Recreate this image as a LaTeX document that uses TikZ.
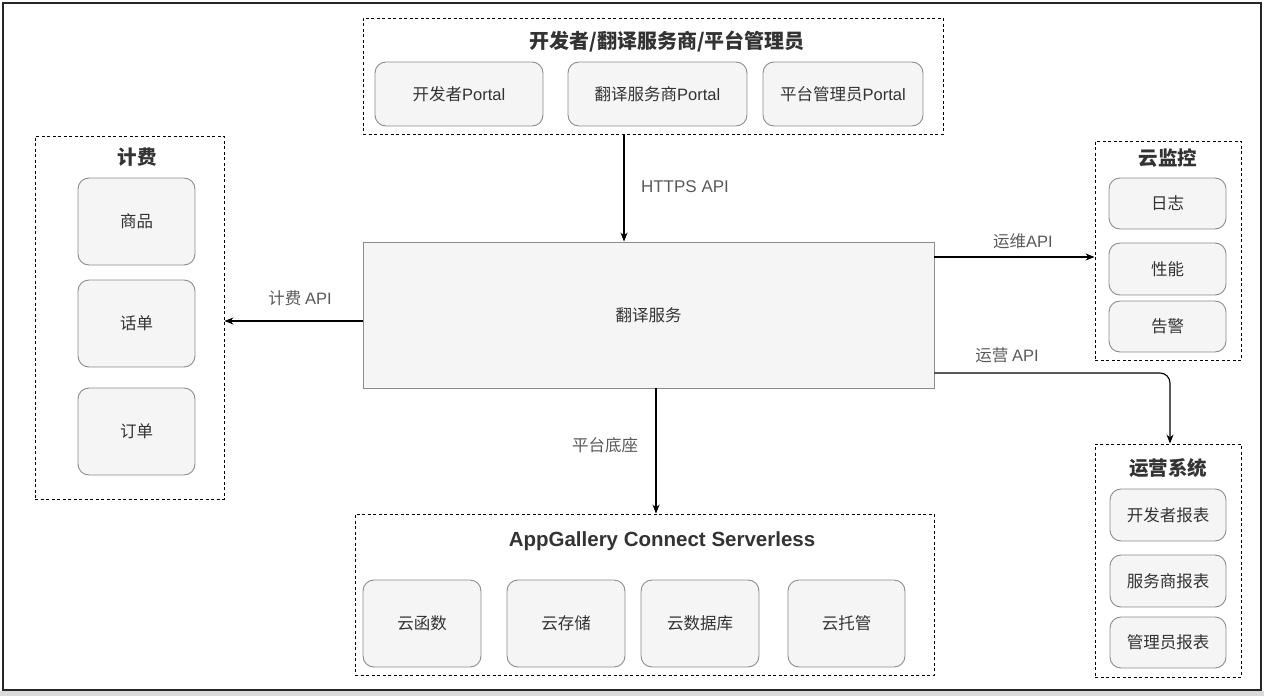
\documentclass[tikz,border=0pt]{standalone}
\usepackage{fontspec}
\setmainfont{Noto Sans CJK SC}
\newfontfamily\lat{Liberation Sans}
\usetikzlibrary{arrows.meta}
\definecolor{txt}{HTML}{333333}
\definecolor{lbl}{HTML}{5A5A5A}
\definecolor{boxfill}{HTML}{F5F5F5}
\definecolor{boxline}{HTML}{8C8C8C}
\tikzset{
  rbox/.style={draw=boxline, fill=boxfill, rounded corners=11pt, line width=0.9pt, text=txt, font=\fontsize{16.5}{19}\selectfont, inner sep=0pt},
  grp/.style={draw=black, dash pattern=on 3pt off 2.5pt, line width=0.9pt, inner sep=0pt},
  ttl/.style={text=txt, font=\fontsize{19.5}{22}\selectfont\bfseries, inner sep=0pt},
  lab/.style={text=lbl, font=\fontsize{16.5}{19}\selectfont, inner sep=0pt},
  arr/.style={draw=black, line width=1.1pt, -{Stealth[length=9pt,width=7pt]}},
}
\begin{document}
\begin{tikzpicture}[x=1pt,y=-1pt]
\useasboundingbox (0,0) rectangle (1264,696);
\fill[white] (0,0) rectangle (1264,696);
\fill[black!15] (0,691) rectangle (1264,696);
\draw[black!85, line width=1.6pt] (3,3) rectangle (1261,690);

% top group
\node[grp, minimum width=580pt, minimum height=116pt] (top) at (653,76) {};
\node[ttl, font=\fontsize{20}{23}\selectfont\bfseries] (toptitle) at (667,42) {开发者/翻译服务商/平台管理员};
\node[rbox, minimum width=168pt, minimum height=64pt] (p1) at (459,94) {开发者{\lat Portal}};
\node[rbox, minimum width=179pt, minimum height=64pt] (p2) at (657.5,94) {翻译服务商{\lat Portal}};
\node[rbox, minimum width=160pt, minimum height=64pt] (p3) at (843,94) {平台管理员{\lat Portal}};

% service
\node[draw=boxline, fill=boxfill, line width=0.9pt, text=txt, font=\fontsize{16.5}{19}\selectfont, minimum width=571pt, minimum height=146pt] (svc) at (648.5,315) {翻译服务};

% billing
\node[grp, minimum width=189pt, minimum height=363pt] (bill) at (129.5,317.5) {};
\node[ttl] (billtitle) at (137,157) {计费};
\node[rbox, minimum width=117pt, minimum height=87pt] (b1) at (136.5,221.5) {商品};
\node[rbox, minimum width=117pt, minimum height=87pt] (b2) at (136.5,323.5) {话单};
\node[rbox, minimum width=117pt, minimum height=87pt] (b3) at (136.5,431.5) {订单};

% monitoring
\node[grp, minimum width=146pt, minimum height=219pt] (mon) at (1168,250.5) {};
\node[ttl] (montitle) at (1168,158) {云监控};
\node[rbox, minimum width=117pt, minimum height=51pt] (m1) at (1167.5,203.5) {日志};
\node[rbox, minimum width=117pt, minimum height=52pt] (m2) at (1167.5,269) {性能};
\node[rbox, minimum width=117pt, minimum height=51pt] (m3) at (1167.5,326.5) {告警};

% operations
\node[grp, minimum width=146pt, minimum height=233pt] (ops) at (1168,560.5) {};
\node[ttl] (opstitle) at (1168,468) {运营系统};
\node[rbox, minimum width=116pt, minimum height=52pt] (o1) at (1168,515) {开发者报表};
\node[rbox, minimum width=116pt, minimum height=52pt] (o2) at (1168,581) {服务商报表};
\node[rbox, minimum width=116pt, minimum height=51pt] (o3) at (1168,642.5) {管理员报表};

% AGC
\node[grp, minimum width=579pt, minimum height=161pt] (agc) at (644.5,594.5) {};
\node[ttl, font=\lat\fontsize{20.5}{23}\selectfont\bfseries] (agctitle) at (662,541) {AppGallery Connect Serverless};
\node[rbox, minimum width=118pt, minimum height=87pt] (a1) at (422,623.5) {云函数};
\node[rbox, minimum width=118pt, minimum height=87pt] (a2) at (566,623.5) {云存储};
\node[rbox, minimum width=118pt, minimum height=87pt] (a3) at (700,623.5) {云数据库};
\node[rbox, minimum width=117pt, minimum height=87pt] (a4) at (846.5,623.5) {云托管};

% connectors
\coordinate (hx) at (624,0);
\draw[arr] (top.south -| hx) -- (svc.north -| hx);
\node[lab, font=\lat\fontsize{17}{19}\selectfont] (l1) at (685,187) {HTTPS API};

\coordinate (by) at (0,321);
\draw[arr] (svc.west |- by) -- (bill.east |- by);
\node[lab] (l2) at (300,298) {计费 {\lat API}};

\coordinate (my) at (0,257);
\draw[arr] (svc.east |- my) -- (mon.west |- my);
\node[lab] (l3) at (1023,241) {运维{\lat API}};

\coordinate (oy) at (0,373);
\coordinate (ox) at (1170,0);
\draw[arr, rounded corners=10pt] (svc.east |- oy) -- (ox |- oy) -- (ops.north -| ox);
\node[lab] (l4) at (1007,355) {运营 {\lat API}};

\coordinate (px) at (656,0);
\draw[arr] (svc.south -| px) -- (agc.north -| px);
\node[lab] (l5) at (605,445) {平台底座};
\end{tikzpicture}
\end{document}
